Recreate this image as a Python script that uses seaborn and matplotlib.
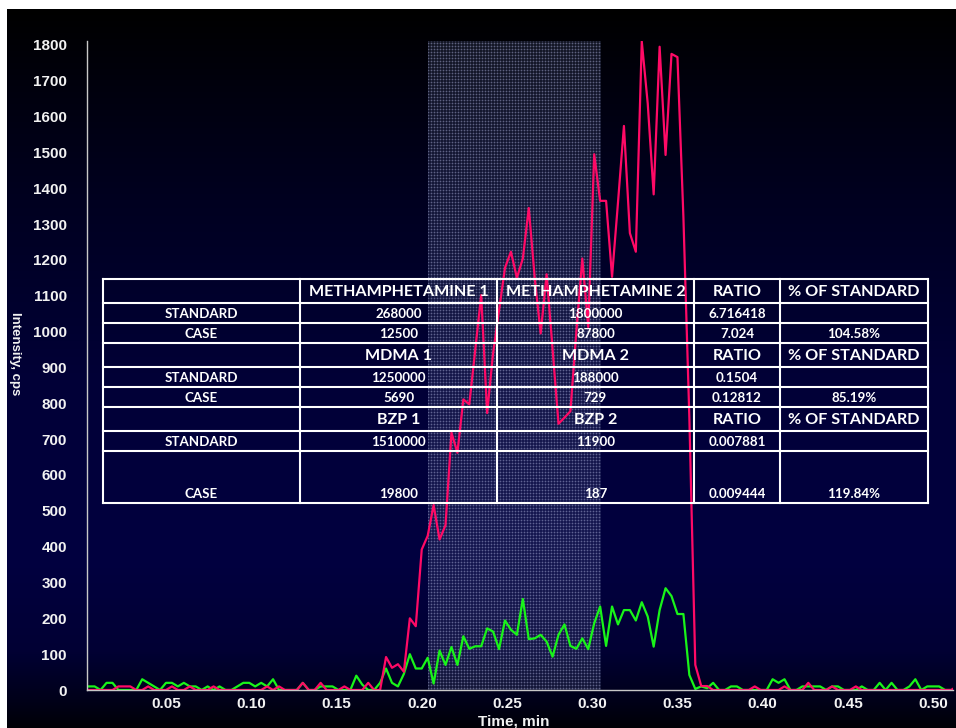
import numpy as np
import pandas as pd
import matplotlib
matplotlib.use("Agg")
import matplotlib.pyplot as plt
import matplotlib.transforms as mtransforms
from matplotlib.ticker import MultipleLocator, FixedLocator
import seaborn as sns

# ---------------------------------------------------------------- data
# acquisition grid of the two MRM transitions (min)
t_start = -0.0025
t_step = 0.00349

# magenta transition, cps
transition_1 = [
    0, 0, 0, 0, 0, 0, 10, 10, 10, 0,
    0, 10, 0, 0, 0, 10, 0, 0, 10, 0,
    0, 0, 10, 0, 0, 0, 0, 0, 0, 0,
    0, 10, 0, 10, 0, 0, 0, 20, 0, 0,
    20, 0, 0, 0, 10, 0, 0, 0, 20, 0,
    0, 92, 62, 72, 51, 200, 178, 392, 430, 516,
    420, 460, 718, 662, 811, 797, 950, 1102, 773, 940,
    1060, 1178, 1223, 1150, 1204, 1345, 1150, 995, 1160, 950,
    743, 760, 778, 1000, 1204, 1013, 1495, 1365, 1365, 1153,
    1360, 1574, 1275, 1223, 1810, 1637, 1383, 1795, 1493, 1775,
    1766, 1320, 760, 70, 11, 11, 0, 0, 0, 0,
    0, 0, 0, 10, 0, 0, 0, 0, 10, 0,
    0, 0, 20, 0, 0, 0, 10, 0, 0, 0,
    10, 0, 0, 0, 0, 0, 0, 0, 0, 0,
    0, 0, 0, 0, 0, 0, 0, 10,
]

# green transition, cps
transition_2 = [
    10, 10, 10, 0, 20, 20, 0, 0, 0, 0,
    30, 20, 10, 0, 20, 20, 10, 20, 10, 10,
    0, 10, 0, 10, 0, 0, 10, 20, 20, 10,
    20, 10, 30, 0, 0, 0, 0, 20, 0, 0,
    10, 10, 10, 0, 0, 0, 40, 15, 0, 0,
    20, 60, 20, 10, 45, 100, 60, 60, 90, 18,
    110, 70, 120, 70, 150, 115, 122, 122, 172, 163,
    114, 194, 168, 154, 254, 142, 144, 154, 135, 93,
    154, 183, 123, 115, 144, 114, 186, 233, 123, 233,
    183, 223, 223, 194, 245, 205, 121, 223, 284, 262,
    212, 212, 42, 3, 10, 5, 20, 0, 0, 10,
    10, 0, 0, 0, 0, 0, 30, 20, 30, 0,
    0, 10, 10, 10, 10, 0, 10, 10, 0, 0,
    0, 10, 0, 0, 20, 0, 20, 0, 0, 10,
    30, 0, 10, 10, 10, 0, 0, 0,
]

# integration window (min)
window_start = 0.200
window_end = 0.301

x_tick_values = [0.05, 0.10, 0.15, 0.20, 0.25, 0.30, 0.35, 0.40, 0.45, 0.50]
y_tick_values = list(range(0, 1900, 100))

# quantitation summary
row_names = ["", "STANDARD", "CASE", "", "STANDARD", "CASE", "", "STANDARD", "CASE"]
analyte_1 = ["METHAMPHETAMINE 1", "268000", "12500",
             "MDMA 1", "1250000", "5690",
             "BZP 1", "1510000", "19800"]
analyte_2 = ["METHAMPHETAMINE 2", "1800000", "87800",
             "MDMA 2", "188000", "729",
             "BZP 2", "11900", "187"]
ratio_col = ["RATIO", "6.716418", "7.024",
             "RATIO", "0.1504", "0.12812",
             "RATIO", "0.007881", "0.009444"]
pct_col = ["% OF STANDARD", "", "104.58%",
           "% OF STANDARD", "", "85.19%",
           "% OF STANDARD", "", "119.84%"]

# ---------------------------------------------------------------- frame
n = len(transition_1)
time_min = t_start + t_step * np.arange(n)
df = pd.DataFrame({
    "time": np.concatenate([time_min, time_min]),
    "intensity": transition_2 + transition_1,
    "trace": ["T2"] * n + ["T1"] * n,
})

sns.set_style("dark")
plt.rcParams["font.family"] = ["Liberation Sans", "DejaVu Sans"]

W, H = 956, 728
fig = plt.figure(figsize=(W / 100, H / 100), dpi=100, facecolor="white")

# slide backdrop: vertical black -> navy -> black gradient
bg = fig.add_axes([7 / W, 0, (W - 7) / W, (H - 9) / H], zorder=0)
rows_px = np.arange(9, H)
stops_px = [9, 80, 200, 380, 560, 650, 700, 728]
stops_b = [0, 12, 32, 55, 64, 52, 25, 6]
blue = np.interp(rows_px, stops_px, stops_b) / 255.0
grad = np.zeros((len(rows_px), 1, 3))
grad[:, 0, 2] = blue
grad[:, 0, 0] = blue * 0.02
bg.imshow(grad, aspect="auto", extent=(0, 1, 0, 1), interpolation="bilinear")
bg.set_axis_off()

# chromatogram axes
ax_left, ax_right, ax_bottom, ax_top = 87, 953, 690, 41
ax = fig.add_axes([ax_left / W, (H - ax_bottom) / H,
                   (ax_right - ax_left) / W, (ax_bottom - ax_top) / H], zorder=1)
ax.set_facecolor("none")

x_min, x_max = 0.0, 0.5082
y_max = 1811

# stippled integration window
win_w, win_h = 173, 650
pat = np.zeros((win_h, win_w, 4))
pat[:, :] = (0.32, 0.35, 0.52, 0.26)
pat[::3, :] = (0.42, 0.45, 0.62, 0.40)
pat[:, ::3] = (0.42, 0.45, 0.62, 0.40)
pat[::3, ::3] = (0.62, 0.65, 0.80, 0.60)
ax.imshow(pat, extent=(window_start, window_end, 0, y_max), aspect="auto",
          interpolation="nearest", zorder=0.5)

sns.lineplot(data=df, x="time", y="intensity", hue="trace",
             hue_order=["T2", "T1"],
             palette={"T2": "#19f419", "T1": "#ff0a66"},
             estimator=None, sort=False, legend=False, linewidth=1.6, ax=ax)

ax.set_xlim(x_min, x_max)
ax.set_ylim(0, y_max)
ax.set_xlabel("")
ax.set_ylabel("")
ax.grid(False)

for side in ("top", "right"):
    ax.spines[side].set_visible(False)
for side in ("left", "bottom"):
    ax.spines[side].set_visible(True)
    ax.spines[side].set_color("#c8c8c8")
    ax.spines[side].set_linewidth(1.0)

ax.xaxis.set_major_locator(FixedLocator(x_tick_values))
ax.xaxis.set_minor_locator(MultipleLocator(0.01))
ax.set_xticklabels([f"{v:.2f}" for v in x_tick_values])
ax.yaxis.set_major_locator(FixedLocator(y_tick_values))
ax.yaxis.set_minor_locator(MultipleLocator(50))
ax.set_yticklabels([str(v) for v in y_tick_values])

ax.tick_params(axis="both", which="major", direction="out", color="#c8c8c8",
               labelcolor="#f2f2f2", labelsize=11, width=0.8, length=3)
ax.tick_params(axis="both", which="minor", direction="out", color="#c8c8c8",
               width=0.8, length=2)
ax.tick_params(axis="x", which="major", pad=2)
ax.tick_params(axis="y", which="major", pad=11.5)
for lab in ax.get_xticklabels() + ax.get_yticklabels():
    lab.set_fontweight("bold")
shift = mtransforms.ScaledTranslation(-6 / 100, 0, fig.dpi_scale_trans)
for lab in ax.get_xticklabels():
    lab.set_transform(lab.get_transform() + shift)

fig.text(514 / W, 1 - 725 / H, "Time, min", color="#f2f2f2", fontsize=11,
         fontweight="bold", ha="center", va="baseline")
fig.text(15 / W, 1 - 354 / H, "Intensity, cps", color="#f2f2f2", fontsize=9.5,
         fontweight="bold", ha="center", va="center", rotation=270)

# ---------------------------------------------------------------- summary table
tab = fig.add_axes([0, 0, 1, 1], zorder=3)
tab.set_xlim(0, W)
tab.set_ylim(H, 0)
tab.set_axis_off()
tab.patch.set_alpha(0)

col_edges = [103, 300, 497, 694, 780, 928]
row_edges = [279, 303, 323, 343, 367, 387, 407, 431, 451, 503]
for y in row_edges:
    tab.plot([col_edges[0], col_edges[-1]], [y, y], color="white", lw=1.5,
             solid_capstyle="projecting")
for x in col_edges:
    tab.plot([x, x], [row_edges[0], row_edges[-1]], color="white", lw=1.5,
             solid_capstyle="projecting")

columns = [row_names, analyte_1, analyte_2, ratio_col, pct_col]
header_rows = {0, 3, 6}
for r in range(len(row_names)):
    top, bottom = row_edges[r], row_edges[r + 1]
    yc = (top + bottom) / 2 if r < len(row_names) - 1 else bottom - 9
    for c, col in enumerate(columns):
        txt = col[r]
        if not txt:
            continue
        xc = (col_edges[c] + col_edges[c + 1]) / 2
        big = r in header_rows
        tab.text(xc, yc + (1 if big else 0.5), txt, color="white",
                 fontsize=11.6 if big else 9.6, fontweight="bold",
                 family=["Lato", "DejaVu Sans"], ha="center", va="center")

fig.savefig("out.png", dpi=100, facecolor="white")
